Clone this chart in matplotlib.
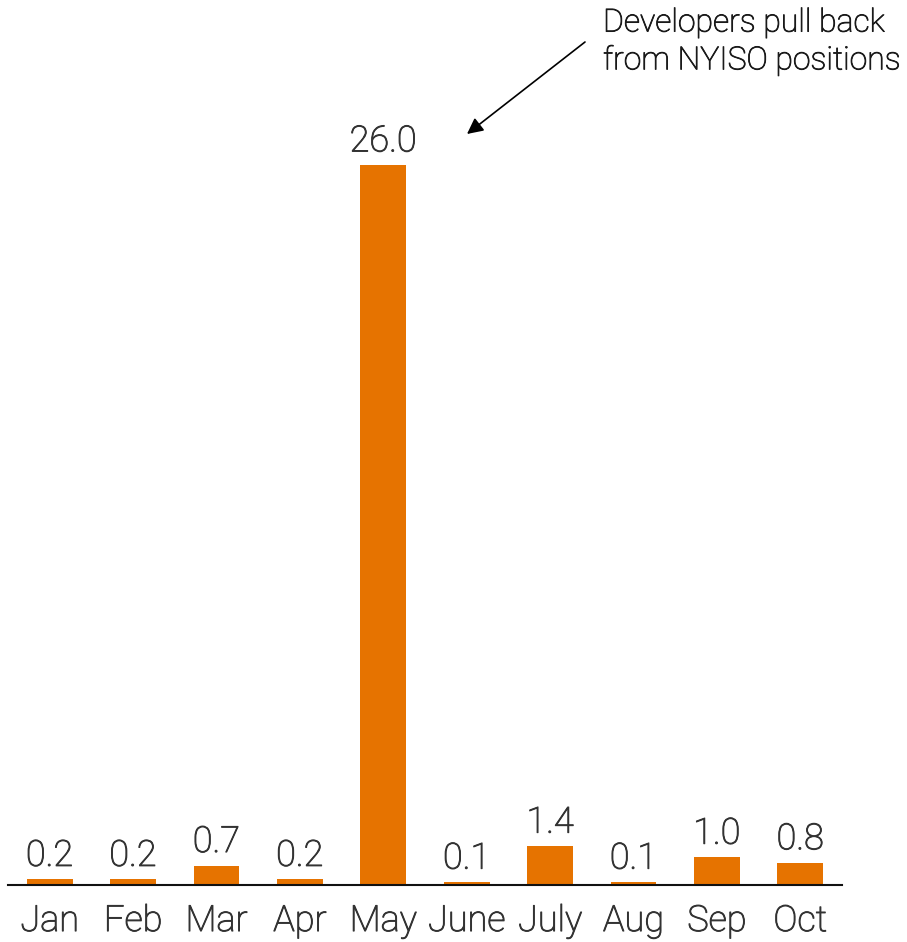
import matplotlib.pyplot as plt
import matplotlib.patheffects as pe
import numpy as np

plt.rcParams['font.family'] = ['Roboto', 'DejaVu Sans']
plt.rcParams['font.weight'] = 'light'

# data
months = ["Jan", "Feb", "Mar", "Apr", "May", "June", "July", "Aug", "Sep", "Oct"]
values = [0.2, 0.2, 0.7, 0.2, 26.0, 0.1, 1.4, 0.1, 1.0, 0.8]

bar_color = '#E67300'
text_color = '#333333'
# light weight, thickened slightly
bold_fx = [pe.withStroke(linewidth=0.7, foreground=text_color)]

fig = plt.figure(figsize=(9.07, 9.42), dpi=100)
ax = fig.add_axes([8 / 907, 57 / 942, 834 / 907, 720 / 942])

index = np.arange(len(months))
bars = ax.bar(index, values, 0.55, color=bar_color)

ax.set_xlim(-0.5, len(months) - 0.5)
ax.set_ylim(0, 26.0)

for b, v in zip(bars, values):
    ax.annotate(f'{v:.1f}', (b.get_x() + b.get_width() / 2, v),
                xytext=(0, 4), textcoords='offset points',
                ha='center', va='bottom', fontsize=26,
                color=text_color, annotation_clip=False, path_effects=bold_fx)

ax.set_xticks(index)
ax.set_xticklabels(months, fontsize=26, color=text_color, path_effects=bold_fx)
ax.tick_params(axis='x', length=0, pad=13)
ax.set_yticks([])

for side in ['top', 'right', 'left']:
    ax.spines[side].set_visible(False)
ax.spines['bottom'].set_linewidth(1.5)
ax.spines['bottom'].set_color('#111111')

# callout for the May spike
fig.text(603 / 907, 1 - 42 / 942, 'Developers pull back\nfrom NYISO positions',
         ha='left', va='center', fontsize=23, color='#1a1a1a', linespacing=1.33,
         path_effects=[pe.withStroke(linewidth=0.6, foreground='#1a1a1a')])
ax.annotate('', xy=(467 / 907, 1 - 134 / 942), xycoords='figure fraction',
            xytext=(585 / 907, 1 - 42 / 942), textcoords='figure fraction',
            arrowprops=dict(arrowstyle='-|>', color='black', lw=1.2,
                            mutation_scale=24, shrinkA=0, shrinkB=0))

fig.savefig('out.png', dpi=100)
